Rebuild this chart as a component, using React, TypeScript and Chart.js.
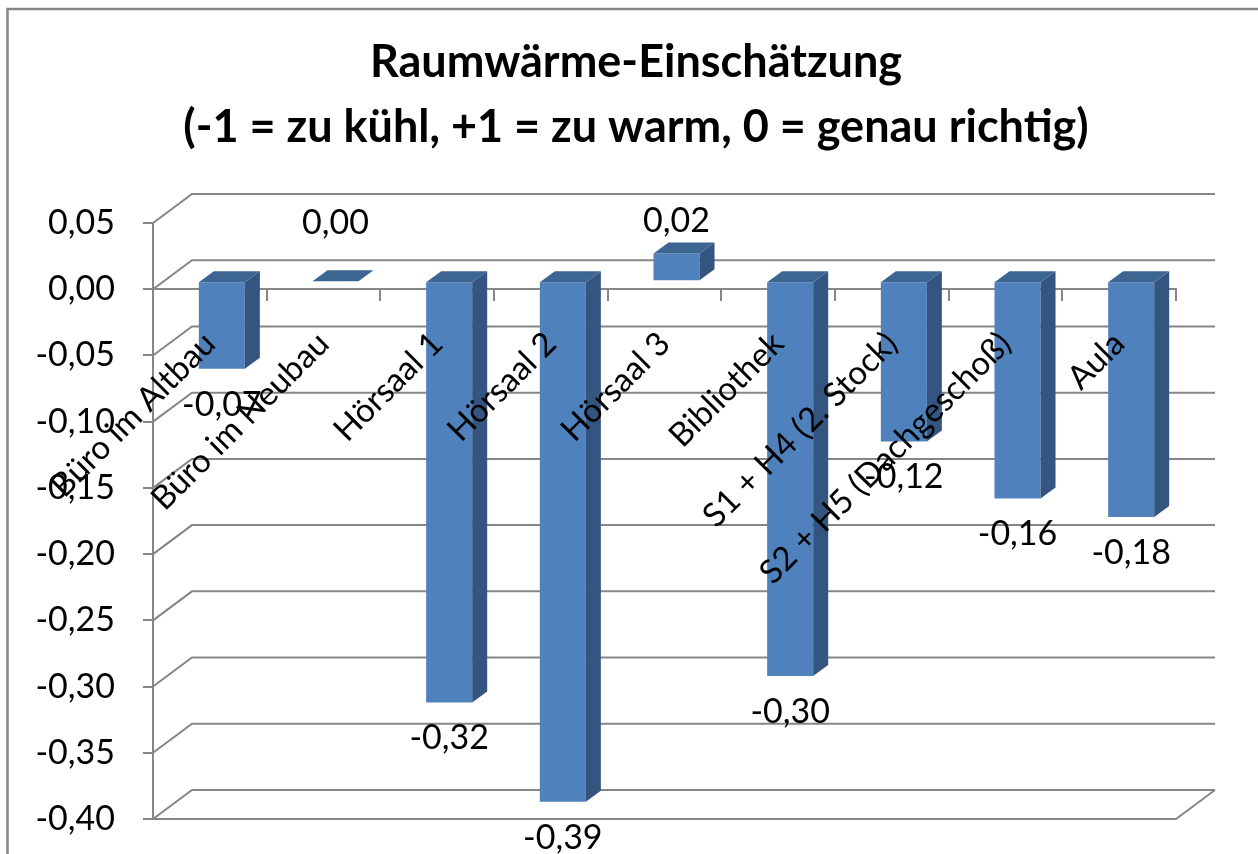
import React, { useEffect, useRef } from 'react';
import { Chart, registerables } from 'chart.js';

Chart.register(...registerables);

const categories = [
  'Büro im Altbau',
  'Büro im Neubau',
  'Hörsaal 1',
  'Hörsaal 2',
  'Hörsaal 3',
  'Bibliothek',
  'S1 + H4 (2. Stock)',
  'S2 + H5 (Dachgeschoß)',
  'Aula',
];
const values = [-0.066, 0.0, -0.318, -0.393, 0.021, -0.298, -0.121, -0.164, -0.178];
const yMin = -0.4;
const yMax = 0.05;
const yStep = 0.05;
const titleLines = ['Raumwärme-Einschätzung', '(-1 = zu kühl, +1 = zu warm, 0 = genau richtig)'];

const FONT = 'Lato';
const GRID = '#868686';
const FRONT = '#4F81BD';
const SIDE = '#34557F';
const TOP = '#3D6592';

// 3D geometry
const DX = 39, DY = -29; // back wall depth
const BX = 12, BY = -8; // bar plane shift
const SX = 15, SY = -11; // bar depth

const fmt = (v: number) => {
  const n = Math.abs(v) < 1e-9 ? 0 : v;
  return n.toFixed(2).replace('.', ',');
};

const line = (ctx: CanvasRenderingContext2D, pts: number[][]) => {
  ctx.beginPath();
  ctx.moveTo(pts[0][0], pts[0][1]);
  for (let i = 1; i < pts.length; i++) ctx.lineTo(pts[i][0], pts[i][1]);
  ctx.stroke();
};

const poly = (ctx: CanvasRenderingContext2D, pts: number[][], fill: string) => {
  ctx.beginPath();
  ctx.moveTo(pts[0][0], pts[0][1]);
  for (let i = 1; i < pts.length; i++) ctx.lineTo(pts[i][0], pts[i][1]);
  ctx.closePath();
  ctx.fillStyle = fill;
  ctx.fill();
};

const threeD = {
  id: 'threeD',
  beforeDraw(chart: any) {
    const ctx = chart.ctx;
    ctx.save();
    ctx.fillStyle = '#ffffff';
    ctx.fillRect(0, 0, chart.width, chart.height);
    ctx.strokeStyle = GRID;
    ctx.lineWidth = 2.5;
    ctx.strokeRect(7.5, 9, chart.width + 50, chart.height + 50);
    // title
    ctx.fillStyle = '#000';
    ctx.font = `bold 45px ${FONT}`;
    ctx.textAlign = 'center';
    ctx.textBaseline = 'middle';
    titleLines.forEach((t, i) => ctx.fillText(t, 636, 62 + i * 65));
    ctx.restore();
  },
  beforeDatasetsDraw(chart: any) {
    const { ctx, chartArea: a, scales } = chart;
    const y = scales.y;
    ctx.save();
    ctx.strokeStyle = GRID;
    ctx.lineWidth = 2;
    y.ticks.forEach((t: any) => {
      const py = y.getPixelForValue(t.value);
      line(ctx, [[a.left, py], [a.left + DX, py + DY], [a.right + DX, py + DY]]);
    });
    line(ctx, [[a.left, a.bottom], [a.right, a.bottom], [a.right + DX, a.bottom + DY]]);
    ctx.restore();
    ctx.save();
    ctx.translate(BX, BY);
  },
  afterDatasetsDraw(chart: any) {
    const ctx = chart.ctx;
    const meta = chart.getDatasetMeta(0);
    meta.data.forEach((bar: any) => {
      const { x, y, base, width } = bar.getProps(['x', 'y', 'base', 'width'], true);
      const l = x - width / 2, r = x + width / 2;
      const t = Math.min(y, base), b = Math.max(y, base);
      poly(ctx, [[r, t], [r + SX, t + SY], [r + SX, b + SY], [r, b]], SIDE);
      poly(ctx, [[l, t], [l + SX, t + SY], [r + SX, t + SY], [r, t]], TOP);
    });
    ctx.restore();
    const zy = chart.scales.y.getPixelForValue(0) + BY;
    ctx.save();
    ctx.fillStyle = '#000';
    ctx.font = `34px ${FONT}`;
    ctx.textAlign = 'center';
    ctx.textBaseline = 'middle';
    meta.data.forEach((bar: any, i: number) => {
      const v = values[i];
      const { x, y, base } = bar.getProps(['x', 'y', 'base'], true);
      const t = Math.min(y, base) + BY, b = Math.max(y, base) + BY;
      const ty = v >= 0 ? Math.min(t - 32, zy - 58) : b + 36;
      ctx.fillText(fmt(v), x + BX, ty);
    });
    ctx.restore();
  },
};

export default function App() {
  const ref = useRef<HTMLCanvasElement>(null);
  useEffect(() => {
    if (!ref.current) return;
    const chart = new Chart(ref.current, {
      type: 'bar',
      data: {
        labels: categories,
        datasets: [
          {
            data: values,
            backgroundColor: FRONT,
            borderWidth: 0,
            barPercentage: 0.405,
            categoryPercentage: 1,
          },
        ],
      },
      options: {
        responsive: false,
        animation: false,
        layout: { padding: { left: 0, right: 82, top: 223, bottom: 35 } },
        plugins: {
          legend: { display: false },
          tooltip: { enabled: false },
          title: { display: false },
        },
        scales: {
          y: {
            min: yMin,
            max: yMax,
            afterFit: (s: any) => {
              s.width = 153;
              s.paddingTop = 20;
              s.paddingBottom = 20;
            },
            ticks: {
              stepSize: yStep,
              color: '#000',
              font: { family: FONT, size: 34 },
              padding: 28,
              callback: (v: any) => fmt(Number(v)),
            },
            grid: { drawOnChartArea: false, drawTicks: true, tickLength: 10, color: GRID, lineWidth: 2 },
            border: { display: true, color: GRID, width: 2 },
          },
          x: {
            position: { y: 0 } as any,
            ticks: {
              z: 1,
              color: '#000',
              font: { family: FONT, size: 33 },
              minRotation: 45,
              maxRotation: 45,
              autoSkip: false,
              padding: 24,
              labelOffset: 0,
            },
            grid: { offset: true, drawOnChartArea: false, drawTicks: true, tickLength: 11, color: GRID, lineWidth: 2 },
            border: { display: true, color: GRID, width: 2 },
          },
        },
      },
      plugins: [threeD],
    });
    return () => chart.destroy();
  }, []);
  return (
    <div style={{ position: 'fixed', left: 0, top: 0, width: 1258, height: 854, background: '#fff' }}>
      <canvas ref={ref} width={1258} height={854} style={{ display: 'block' }} />
    </div>
  );
}
